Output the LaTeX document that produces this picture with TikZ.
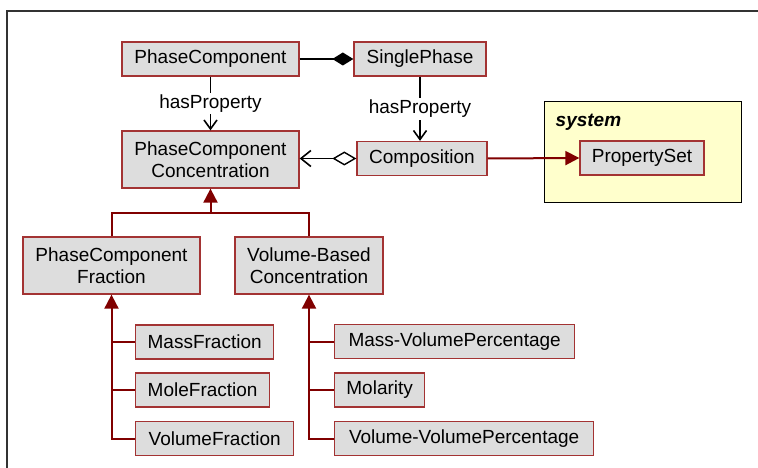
\documentclass[tikz,border=0pt]{standalone}
\usepackage{fontspec}
\setmainfont{Liberation Sans}
\usepackage{xcolor}
\usetikzlibrary{arrows.meta,positioning,calc}
\definecolor{ink}     {HTML}{000000}
\definecolor{boxline} {HTML}{A33333}
\definecolor{boxbg}   {HTML}{DDDDDD}
\definecolor{genred}  {HTML}{800000}
\definecolor{sysbg}   {HTML}{FFFFCC}
\definecolor{frameln} {HTML}{333333}
\tikzset{
  cls/.style      ={draw=boxline, fill=boxbg, line width=1.3pt,
                    minimum height=34pt, align=center, inner sep=3pt,
                    font=\fontsize{19}{22}\selectfont},
  cls2/.style     ={cls, minimum height=57pt},
  leaf/.style     ={cls, anchor=west},
  sysbox/.style   ={draw=ink, fill=sysbg, line width=1pt,
                    minimum width=197pt, minimum height=100pt},
  syslbl/.style   ={font=\fontsize{19}{22}\selectfont\bfseries\itshape,
                    anchor=north west, inner sep=0pt},
  lbl/.style      ={font=\fontsize{19}{22}\selectfont, fill=white, inner sep=2pt},
  assoc/.style    ={draw=ink, line width=1.8pt,
                    -{Straight Barb[length=9pt,width=13pt,line width=1.6pt]}},
  compos/.style   ={draw=ink, line width=1.8pt,
                    -{Diamond[length=21pt,width=13pt]}},
  aggr/.style     ={draw=ink, line width=1.8pt,
                    {Diamond[open,length=24pt,width=14pt,line width=1.4pt]}-{Straight Barb[length=10pt,width=16pt,line width=1.6pt]}},
  genline/.style  ={draw=genred, line width=2pt},
  gen/.style      ={genline, -{Triangle[length=14pt,width=14pt]}},
  frame/.style    ={draw=frameln, line width=2pt},
}
\begin{document}
\begin{tikzpicture}[x=1pt,y=-1pt]
  \useasboundingbox (0,0) rectangle (758,468);
  \draw[frame] (7,468) -- (7,11) -- (758,11);

  % top row
  \node[cls,minimum width=177pt] (pc) at (210.5,59) {PhaseComponent};
  \node[cls,minimum width=132pt] (sp) at (420,59) {SinglePhase};
  \node[cls2,minimum width=177pt] (pcc) at (210.5,159.5) {PhaseComponent\\Concentration};
  \node[cls,minimum width=130pt] (comp) at (422,158.5) {Composition};

  \node[sysbox] (sys) at (642.5,152) {};
  \node[syslbl] (syst) at ([xshift=12pt,yshift=-12pt]sys.north west) {system};
  \node[cls,minimum width=124pt] (ps) at (642,158) {PropertySet};

  \draw[compos] (pc.east) -- (sp.west);
  \draw[assoc] (pc) -- node[lbl] {hasProperty} (pcc);
  \draw[assoc] (sp) -- node[lbl] {hasProperty} (sp |- comp.north);
  \draw[aggr] (comp.west) -- (comp.west -| pcc.east);
  \draw[gen] (comp.east) -- (ps.west);

  % subclasses
  \node[cls2,minimum width=177pt] (pcf) at (111.5,265.5) {PhaseComponent\\Fraction};
  \node[cls2,minimum width=148pt] (vbc) at (309,265.5) {Volume-Based\\Concentration};
  \coordinate (j1) at (210.5,213);
  \draw[genline] (pcf.north) |- (j1) -| (vbc.north);
  \draw[gen] (j1) -- (pcc.south);

  \node[leaf,minimum width=138pt] (massf) at (135,342) {MassFraction};
  \node[leaf,minimum width=134pt] (molef) at (135,390) {MoleFraction};
  \node[leaf,minimum width=158pt] (volf)  at (135,438.5) {VolumeFraction};
  \draw[gen] (volf.west) -| (pcf.south);
  \draw[genline] (massf.west) -- (massf.west -| pcf.south);
  \draw[genline] (molef.west) -- (molef.west -| pcf.south);

  \node[leaf,minimum width=240pt] (mvp) at (334,341.5) {Mass-VolumePercentage};
  \node[leaf,minimum width=90pt]  (mol) at (334,390) {Molarity};
  \node[leaf,minimum width=259pt] (vvp) at (334,438.5) {Volume-VolumePercentage};
  \draw[gen] (vvp.west) -| (vbc.south);
  \draw[genline] (mvp.west) -- (mvp.west -| vbc.south);
  \draw[genline] (mol.west) -- (mol.west -| vbc.south);
\end{tikzpicture}
\end{document}
